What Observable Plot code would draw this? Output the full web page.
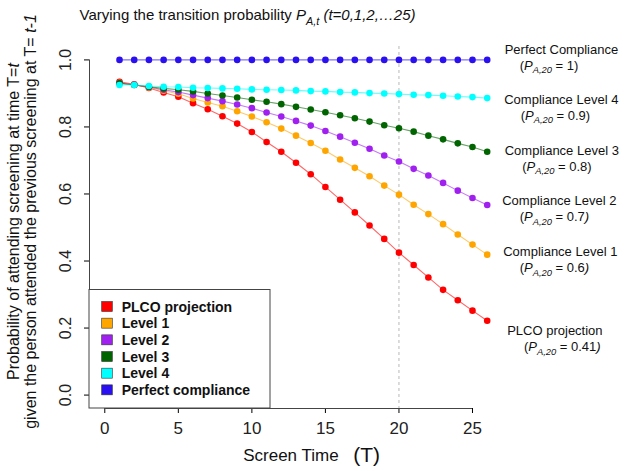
<!DOCTYPE html>
<html>
<head>
<meta charset="utf-8">
<script src="https://cdn.jsdelivr.net/npm/d3@7"></script>
<script src="https://cdn.jsdelivr.net/npm/@observablehq/plot@0.6"></script>
<style>
  body { margin: 0; background: #fff; }
  #chart { width: 626px; height: 471px; }
</style>
</head>
<body>
<div id="chart"></div>
<script>
// ---------------- data ----------------
const screenTime = [1,2,3,4,5,6,7,8,9,10,11,12,13,14,15,16,17,18,19,20,21,22,23,24,25,26];
const plcoProjection = [0.935,0.927,0.916,0.903,0.890,0.871,0.853,0.832,0.810,0.785,0.755,0.726,0.693,0.659,0.621,0.583,0.545,0.506,0.466,0.425,0.388,0.351,0.314,0.283,0.252,0.222];
const level1 = [0.932,0.926,0.918,0.908,0.899,0.885,0.873,0.862,0.847,0.831,0.814,0.795,0.774,0.752,0.729,0.703,0.678,0.653,0.625,0.598,0.568,0.540,0.510,0.479,0.449,0.419];
const level2 = [0.931,0.926,0.919,0.911,0.904,0.895,0.886,0.877,0.867,0.856,0.843,0.831,0.818,0.804,0.788,0.771,0.753,0.735,0.715,0.697,0.675,0.655,0.633,0.610,0.588,0.567];
const level3 = [0.930,0.925,0.920,0.915,0.911,0.906,0.900,0.894,0.888,0.881,0.875,0.868,0.860,0.852,0.844,0.835,0.826,0.816,0.805,0.796,0.786,0.774,0.763,0.751,0.740,0.726];
const level4 = [0.925,0.925,0.922,0.920,0.919,0.917,0.916,0.915,0.914,0.912,0.911,0.910,0.909,0.907,0.906,0.904,0.903,0.901,0.900,0.898,0.896,0.895,0.893,0.891,0.889,0.886];
const perfectCompliance = [1,1,1,1,1,1,1,1,1,1,1,1,1,1,1,1,1,1,1,1,1,1,1,1,1,1];

const seriesNames = ["PLCO projection", "Level 1", "Level 2", "Level 3", "Level 4", "Perfect compliance"];
const seriesValues = [plcoProjection, level1, level2, level3, level4, perfectCompliance];
const annotationLine1 = ["PLCO projection", "Compliance Level 1", "Compliance Level 2", "Compliance Level 3", "Compliance Level 4", "Perfect Compliance"];
const annotationLine2 = ["(*P*_{A,20} = 0.41*)*", "(*P*_{A,20} = 0.6*)*", "(*P*_{A,20} = 0.7*)*", "(*P*_{A,20} = 0.8)", "(*P*_{A,20} = 0.9)", "(*P*_{A,20} = 1)"];
const referenceTime = [20];

const xTicks = [0, 5, 10, 15, 20, 25];
const yTicks = [0, 0.2, 0.4, 0.6, 0.8, 1.0];

const titleText = "Varying the transition probability *P*_{A,t} *(t=0,1,2,…25)*";
const yLabel1 = "Probability of attending screening at time T=*t*";
const yLabel2 = "given the person attended the previous screening at T= *t-1*";
const xLabelMain = "Screen Time";
const xLabelUnit = "(T)";

// ---------------- styles ----------------
const colors = ["#ff0000", "#ffa500", "#a020f0", "#006400", "#00ffff", "#2a10f0"];
// per-annotation offsets (px) from the series' last point
const annOffsets = [
  {dx1: 20,   dy1: 9.8,  dx2: 36.7, dy2: 26.5},
  {dx1: 16,   dy1: -2.4, dx2: 32.5, dy2: 13.6},
  {dx1: 15,   dy1: -3.8, dx2: 32.5, dy2: 12.2},
  {dx1: 17.5, dy1: -0.5, dx2: 35,   dy2: 14.8},
  {dx1: 17,   dy1: 1.7,  dx2: 33.5, dy2: 17.4},
  {dx1: 17.5, dy1: -10.1,dx2: 32.5, dy2: 5.6}
];

// ---------------- table ----------------
const rows = [];
seriesNames.forEach((name, i) => {
  screenTime.forEach((t, j) => rows.push({series: name, idx: i, t, value: seriesValues[i][j]}));
});
const lastPoints = seriesNames.map((name, i) => ({series: name, idx: i, t: screenTime[screenTime.length - 1], value: seriesValues[i][seriesValues[i].length - 1]}));

const W = 626, H = 471;
const mL = 89, mR = 124, mT = 46, mB = 63;
const xDomain = [-1.04, 27.04];
const yDomain = [-0.04, 1.04];

const marks = [
  Plot.ruleX(referenceTime, {stroke: "#b8b8b8", strokeDasharray: "3,3", strokeWidth: 1}),
  // R-style axis lines spanning first..last tick
  Plot.ruleY([yDomain[0]], {x1: xTicks[0], x2: xTicks[xTicks.length - 1], stroke: "#444"}),
  Plot.ruleX([xDomain[0]], {y1: yTicks[0], y2: yTicks[yTicks.length - 1], stroke: "#444"}),
];

seriesNames.forEach((name, i) => {
  const data = rows.filter(r => r.idx === i);
  marks.push(Plot.line(data, {x: "t", y: "value", stroke: colors[i], strokeWidth: 1.1, strokeOpacity: 0.6}));
  marks.push(Plot.dot(data, {x: "t", y: "value", fill: colors[i], r: 3.3}));
});

const T = {lineAnchor: "middle", fill: "#111"};

// annotations
lastPoints.forEach((p, i) => {
  const o = annOffsets[i];
  marks.push(Plot.text([p], {...T, x: "t", y: "value", text: () => annotationLine1[i], dx: o.dx1, dy: o.dy1, textAnchor: "start", fontSize: 13}));
  marks.push(Plot.text([p], {...T, x: "t", y: "value", text: () => annotationLine2[i], dx: o.dx2, dy: o.dy2, textAnchor: "start", fontSize: 13}));
});

// tick labels
marks.push(Plot.text(xTicks, {...T, x: d => d, frameAnchor: "bottom", dy: 20.5, textAnchor: "middle", text: d => String(d), fontSize: 17, fill: "#222"}));
marks.push(Plot.text(yTicks, {...T, y: d => d, frameAnchor: "left", dx: -23.5, rotate: -90, textAnchor: "middle", text: d => d3.format(".1f")(d), fontSize: 16, fill: "#222"}));

// titles
marks.push(Plot.text([titleText], {...T, frameAnchor: "top-left", dx: -10, dy: -31, text: d => d, textAnchor: "start", fontSize: 15}));
marks.push(Plot.text([yLabel1], {...T, frameAnchor: "left", dx: -76.1, dy: -6, rotate: -90, textAnchor: "middle", text: d => d, fontSize: 16}));
marks.push(Plot.text([yLabel2], {...T, frameAnchor: "left", dx: -59.1, dy: -6, rotate: -90, textAnchor: "middle", text: d => d, fontSize: 16}));
marks.push(Plot.text([xLabelMain], {...T, frameAnchor: "bottom-left", dx: 153.7, dy: 47.5, text: d => d, textAnchor: "start", fontSize: 17}));
marks.push(Plot.text([xLabelUnit], {...T, frameAnchor: "bottom-left", dx: 263.7, dy: 46.3, text: d => d, textAnchor: "start", fontSize: 21}));

const chart = Plot.plot({
  width: W, height: H,
  marginLeft: mL, marginRight: mR, marginTop: mT, marginBottom: mB,
  style: {fontFamily: "'Liberation Sans', Arial, Helvetica, sans-serif", background: "white", overflow: "visible"},
  x: {domain: xDomain, ticks: xTicks, tickSize: 5, tickFormat: () => "", label: null},
  y: {domain: yDomain, ticks: yTicks, tickSize: 5, tickFormat: () => "", label: null},
  marks
});

document.getElementById("chart").appendChild(chart);

// rich text: *italic* and _{subscript}
const svgNS = "http://www.w3.org/2000/svg";
d3.select(chart).selectAll("text").each(function() {
  const s = this.textContent;
  if (!/\*|_\{/.test(s)) return;
  const fs = parseFloat(getComputedStyle(this).fontSize) || 14;
  while (this.firstChild) this.removeChild(this.firstChild);
  const parts = s.split(/(\*[^*]+\*|_\{[^}]+\})/).filter(p => p.length);
  let shift = 0;
  for (const p of parts) {
    const ts = document.createElementNS(svgNS, "tspan");
    if (p.startsWith("_{")) {
      ts.textContent = p.slice(2, -1);
      ts.setAttribute("font-style", "italic");
      ts.setAttribute("font-size", (fs * 0.72) + "px");
      ts.setAttribute("dy", (fs * 0.28) + "px");
      shift = fs * 0.28;
    } else {
      if (p.startsWith("*")) {
        ts.textContent = p.slice(1, -1);
        ts.setAttribute("font-style", "italic");
      } else {
        ts.textContent = p;
      }
      if (shift) { ts.setAttribute("dy", (-shift) + "px"); shift = 0; }
    }
    this.appendChild(ts);
  }
});

// legend (R-style, bottom-left of the plotting region)
const lg = d3.select(chart).append("g").attr("text-anchor", "start");
const lx = mL, lyBottom = H - mB;
const lw = 181, lh = 118.5;
lg.append("rect").attr("x", lx).attr("y", lyBottom - lh).attr("width", lw).attr("height", lh)
  .attr("fill", "white").attr("stroke", "#444").attr("stroke-width", 1);
seriesNames.forEach((name, i) => {
  const cy = lyBottom - lh + 17 + i * 16.67;
  lg.append("rect").attr("x", lx + 12.7).attr("y", cy - 5).attr("width", 10.6).attr("height", 10)
    .attr("fill", colors[i]).attr("stroke", "#333").attr("stroke-width", 0.6);
  lg.append("text").attr("x", lx + 32.7).attr("y", cy).attr("dy", "0.36em").attr("text-anchor", "start")
    .attr("font-size", 14).attr("font-weight", "bold").attr("fill", "#111").text(name);
});
</script>
</body>
</html>
